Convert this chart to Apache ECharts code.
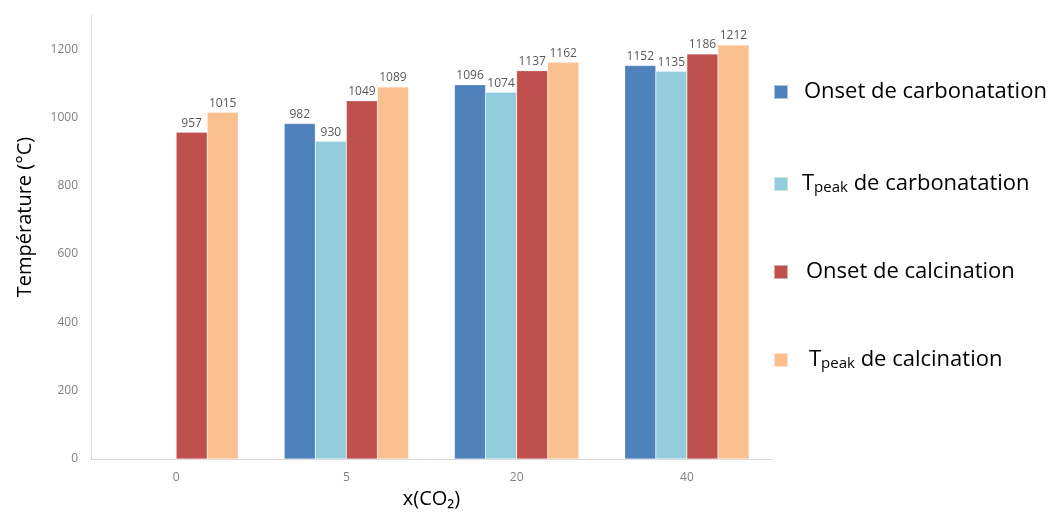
<!DOCTYPE html>
<html><head><meta charset="utf-8">
<script src="https://cdn.jsdelivr.net/npm/echarts@6/dist/echarts.min.js"></script>
<style>html,body{margin:0;padding:0;background:#fff}#c{width:1059px;height:513px}</style>
</head><body><div id="c"></div>
<script>
const categories = ['0', '5', '20', '40'];
const seriesNames = ['Onset de carbonatation', 'Tpeak de carbonatation', 'Onset de calcination', 'Tpeak de calcination'];
const onsetCarb = [null, 982, 1096, 1152];
const tpeakCarb = [null, 930, 1074, 1135];
const onsetCalc = [957, 1049, 1137, 1186];
const tpeakCalc = [1015, 1089, 1162, 1212];
const colors = ['#4F81BD', '#93CDDD', '#C0504D', '#FAC090'];

const allData = [onsetCarb, tpeakCarb, onsetCalc, tpeakCalc];
const chart = echarts.init(document.getElementById('c'));
const font = 'Open Sans';
const rich = {
  n: {fontSize: 22, color: '#000', fontFamily: font},
  t: {fontSize: 22, color: '#000', fontFamily: font},
  s: {fontSize: 15, color: '#000', fontFamily: font, verticalAlign: 'bottom', padding: [7, 0, 0, 0]}
};
function legendFmt(name) {
  if (name.startsWith('Tpeak')) return '{t|T}{s|peak}{n| ' + name.slice(6) + '}';
  return '{n|' + name + '}';
}
const legendPos = [[773, 81], [773, 173], [773, 261], [773, 349]];
const legendGap = [16, 14, 18, 21];
const legends = seriesNames.map((n, i) => ({
  data: [n], left: legendPos[i][0], top: legendPos[i][1], orient: 'vertical',
  itemWidth: 14, itemHeight: 14, itemGap: 0, icon: 'rect', padding: 0,
  formatter: legendFmt,
  textStyle: {rich: rich, padding: [0, 0, 0, legendGap[i] - 5]}
}));
chart.setOption({
  backgroundColor: '#fff',
  animation: false,
  legend: legends,
  grid: {left: 91, right: 287, top: 15, bottom: 54, outerBoundsMode: 'none', containLabel: false},
  xAxis: {
    type: 'category', data: categories,
    axisLine: {lineStyle: {color: '#d9d9d9'}},
    axisTick: {show: false},
    axisLabel: {color: '#7f7f7f', fontSize: 12, margin: 13, fontFamily: font},
    name: 'x(CO₂)', nameLocation: 'middle', nameGap: 30,
    nameTextStyle: {color: '#000', fontSize: 20, fontFamily: font}
  },
  yAxis: {
    type: 'value', min: 0, max: 1300, interval: 200,
    axisLine: {show: true, lineStyle: {color: '#d9d9d9'}},
    axisTick: {show: false},
    splitLine: {show: false},
    axisLabel: {color: '#7f7f7f', fontSize: 12, margin: 13, showMaxLabel: false, fontFamily: font,
      formatter: v => String(v)},
    name: 'Température (°C)', nameLocation: 'middle', nameGap: 56, nameRotate: 90,
    nameTextStyle: {color: '#000', fontSize: 20, fontFamily: font, padding: [0, 0, 0, 40]}
  },
  series: seriesNames.map((n, i) => ({
    name: n, type: 'bar', data: allData[i],
    barGap: '0%', barCategoryGap: '27%',
    itemStyle: {color: colors[i], borderColor: 'rgba(255,255,255,0.5)', borderWidth: 0.5},
    label: {show: true, position: 'top', color: '#595959', fontSize: 12, distance: 3, fontFamily: font}
  })),
  color: colors
});
</script></body></html>
